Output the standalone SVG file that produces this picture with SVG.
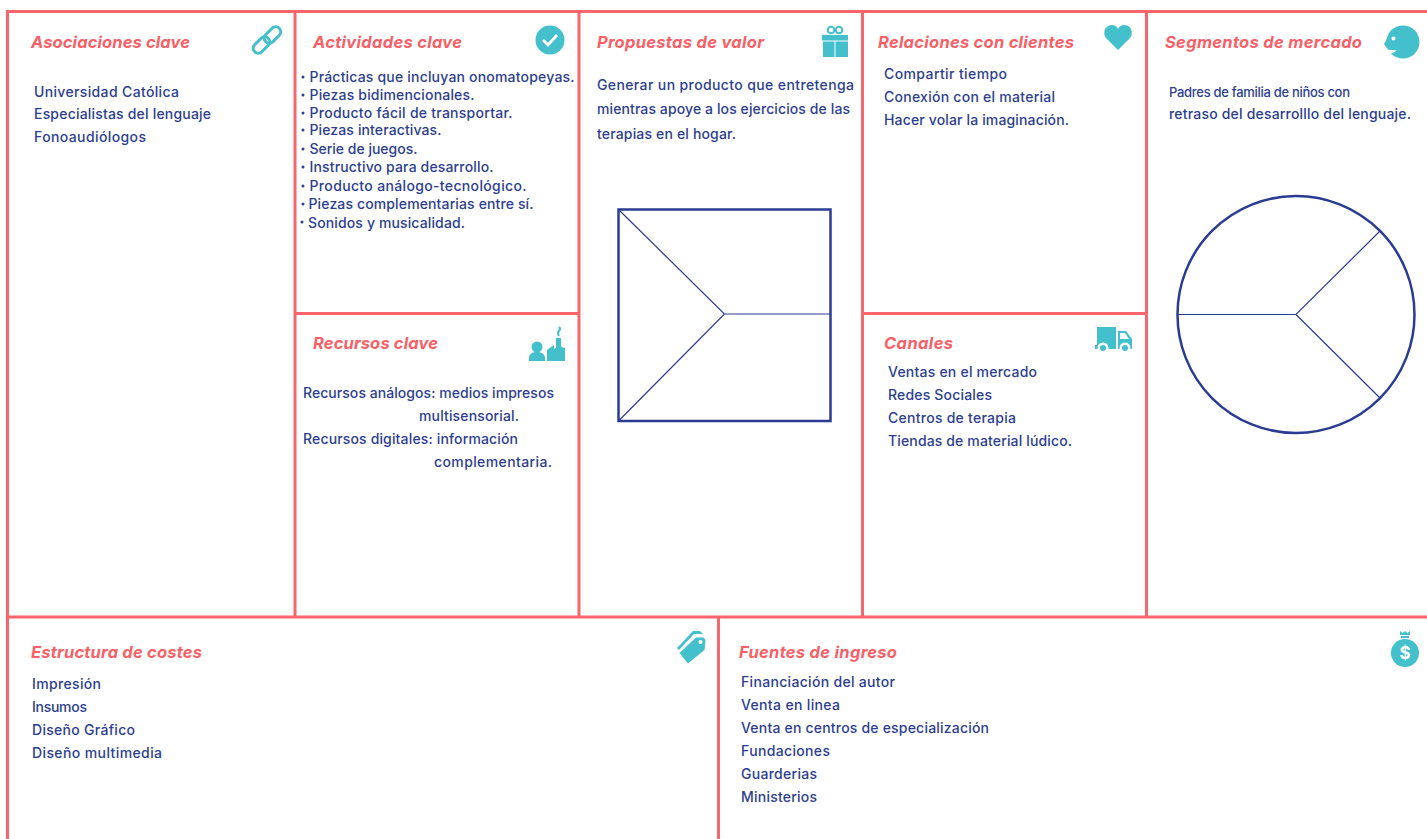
<svg xmlns="http://www.w3.org/2000/svg" width="1427" height="839" viewBox="0 0 1427 839">
<style>
text{font-family:"Inter","Noto Sans",sans-serif}
.h{font-size:16.500px;font-weight:700;font-style:italic;fill:#f95f66}
.t{font-size:14px;font-weight:500;fill:#2c3e8f}
.g{fill:none;stroke:#f9656c;stroke-width:3}
.i{fill:#43c0cc}
.d{fill:none;stroke:#2a3c92}
.b{fill:#2c3e8f}
</style>
<rect width="1427" height="839" fill="#fff"/>
<g id="grid">
<path class="g" d="M7.500 839V11.500H1427M295 11.500V617M579 11.500V617M862.500 11.500V617M1146.500 11.500V617M295 313.500H579M862.500 313.500H1146.500M7.500 617H1427M718.500 617V839"/>
</g>
<g id="asociaciones">
<text class="h" x="31" y="48" textLength="159">Asociaciones clave</text>
<text class="t" x="34" y="96.500" textLength="145">Universidad Católica</text>
<text class="t" x="34" y="119" textLength="177">Especialistas del lenguaje</text>
<text class="t" x="34" y="142" textLength="112">Fonoaudiólogos</text>
<g fill="none" stroke="#43c0cc" stroke-width="3"><rect x="-5" y="-9.500" width="10" height="19" rx="5" transform="translate(272.500 35) rotate(45)"/><rect x="-5" y="-9.500" width="10" height="19" rx="5" transform="translate(261.500 45) rotate(45)"/></g>
</g>
<g id="actividades">
<text class="h" x="313" y="48" textLength="149">Actividades clave</text>
<g class="b"><circle cx="303" cy="77" r="1.500"/><circle cx="303" cy="95" r="1.500"/><circle cx="303" cy="113" r="1.500"/><circle cx="303" cy="130" r="1.500"/><circle cx="303" cy="149" r="1.500"/><circle cx="303" cy="167" r="1.500"/><circle cx="303" cy="186" r="1.500"/><circle cx="303" cy="204" r="1.500"/><circle cx="302" cy="222" r="1.500"/></g>
<text class="t" x="309.500" y="81.500" textLength="265">Prácticas que incluyan onomatopeyas.</text>
<text class="t" x="309.500" y="100" textLength="165">Piezas bidimencionales.</text>
<text class="t" x="309.500" y="118" textLength="203">Producto fácil de transportar.</text>
<text class="t" x="309.500" y="135" textLength="132">Piezas interactivas.</text>
<text class="t" x="309.500" y="154" textLength="108">Serie de juegos.</text>
<text class="t" x="309.500" y="172" textLength="184">Instructivo para desarrollo.</text>
<text class="t" x="309.500" y="191" textLength="217">Producto análogo-tecnológico.</text>
<text class="t" x="308.500" y="209" textLength="225">Piezas complementarias entre sí.</text>
<text class="t" x="308" y="228" textLength="157">Sonidos y musicalidad.</text>
<circle class="i" cx="550" cy="40" r="14.500"/><path d="M543 40l5 5 9-10" fill="none" stroke="#fff" stroke-width="2.800"/>
</g>
<g id="recursos">
<text class="h" x="313" y="349" textLength="125">Recursos clave</text>
<text class="t" x="303" y="398" textLength="251">Recursos análogos: medios impresos</text>
<text class="t" x="419" y="421" textLength="100">multisensorial.</text>
<text class="t" x="303" y="444" textLength="215">Recursos digitales: información</text>
<text class="t" x="434" y="467" textLength="118">complementaria.</text>
<circle class="i" cx="537" cy="347" r="5.500"/>
<path class="i" d="M529 361v-3q0-5 6-6h4q5 1 6 5v4zM547 361v-11l7-5v4l5-3 6 2v13z"/>
<path class="i" d="M556 348v-10h5v10z"/>
<path d="M559 336q-2-3 0-5t0-4" fill="none" stroke="#43c0cc" stroke-width="2"/>
</g>
<g id="propuestas">
<text class="h" x="597" y="48" textLength="167">Propuestas de valor</text>
<text class="t" x="597" y="89.500" textLength="257">Generar un producto que entretenga</text>
<text class="t" x="597" y="114" textLength="253">mientras apoye a los ejercicios de las</text>
<text class="t" x="597" y="139" textLength="139">terapias en el hogar.</text>
<path class="i" d="M822 35h26v5.500h-26zM823 41.500h11.500v15.500h-11.500zM835.500 41.500h12.500v15.500h-12.500z"/><g fill="none" stroke="#43c0cc" stroke-width="2"><circle cx="831" cy="30" r="3.300"/><circle cx="839" cy="30" r="3.300"/></g>
<rect class="d" x="618.500" y="209.500" width="212" height="211.500" stroke-width="2.500"/>
<path class="d" stroke-width="1.200" d="M618.500 209.500L724.500 314L618.500 421M724.500 314H830.500"/>
</g>
<g id="relaciones">
<text class="h" x="878" y="48" textLength="196">Relaciones con clientes</text>
<text class="t" x="884" y="79" textLength="123">Compartir tiempo</text>
<text class="t" x="884" y="102" textLength="171">Conexión con el material</text>
<text class="t" x="884" y="125" textLength="185">Hacer volar la imaginación.</text>
<path class="i" d="M1118 50l-12-12q-3-4-1-9 3-4 7-4 4 0 6 4 2-4 6-4 5 0 7 4 2 5-1 9z"/>
</g>
<g id="canales">
<text class="h" x="884" y="349" textLength="69">Canales</text>
<text class="t" x="888" y="377" textLength="149">Ventas en el mercado</text>
<text class="t" x="888" y="400" textLength="104">Redes Sociales</text>
<text class="t" x="888" y="423" textLength="128">Centros de terapia</text>
<text class="t" x="888" y="446" textLength="184">Tiendas de material lúdico.</text>
<path class="i" d="M1097 327h19v22h-21v-4h2zM1118 331h8l6 8v10h-14z"/><path d="M1120 333h5l4 6h-9z" fill="#fff"/>
<circle cx="1103" cy="348" r="5.500" fill="#fff"/><circle cx="1125" cy="348" r="5.500" fill="#fff"/><circle class="i" cx="1103" cy="348" r="3"/><circle class="i" cx="1125" cy="348" r="3"/>
</g>
<g id="segmentos">
<text class="h" x="1165" y="48" textLength="197">Segmentos de mercado</text>
<text class="t" x="1169" y="96.500" style="font-size:13px" textLength="181">Padres de familia de niños con</text>
<text class="t" x="1169" y="119" textLength="242">retraso del desarrolllo del lenguaje.</text>
<circle class="i" cx="1403" cy="42" r="16.500"/><path class="i" d="M1384 44l8-15v26z"/><path d="M1386 49.500L1397 50.500L1389 55z" fill="#fff"/><circle cx="1393.500" cy="38.500" r="2" fill="#fff"/>
<circle class="d" cx="1296" cy="314.500" r="118.500" stroke-width="2.500"/>
<path class="d" stroke-width="1.200" d="M1178 314.500H1296L1380 231M1296 314.500L1380 398"/>
</g>
<g id="costes">
<text class="h" x="31" y="658" textLength="171">Estructura de costes</text>
<text class="t" x="32" y="689" textLength="69">Impresión</text>
<text class="t" x="32" y="712" textLength="55">Insumos</text>
<text class="t" x="32" y="735" textLength="103">Diseño Gráfico</text>
<text class="t" x="32" y="758" textLength="130">Diseño multimedia</text>
<path class="i" d="M679.500 653L696 637.500L703.500 637.500Q705.500 638.500 705.500 641L704.500 650L688 663.500z"/><path class="i" d="M677 648L693 631H700L703 634H694L679 650z"/><circle cx="700.500" cy="642" r="2" fill="#fff"/>
</g>
<g id="fuentes">
<text class="h" x="739" y="658" textLength="158">Fuentes de ingreso</text>
<text class="t" x="741" y="687" textLength="154">Financiación del autor</text>
<text class="t" x="741" y="710" textLength="99">Venta en linea</text>
<text class="t" x="741" y="733" textLength="248">Venta en centros de especialización</text>
<text class="t" x="741" y="756" textLength="89">Fundaciones</text>
<text class="t" x="741" y="779" textLength="76">Guarderias</text>
<text class="t" x="741" y="802" textLength="76">Ministerios</text>
<circle class="i" cx="1405" cy="653" r="14"/><path class="i" d="M1400 631l2.500 2 2.500-2 2.500 2 2.500-2v4h-10zM1401 636h8v2h-8z"/>
<text x="1405" y="659" text-anchor="middle" font-size="17" font-weight="700" fill="#fff">$</text>
</g>
</svg>
